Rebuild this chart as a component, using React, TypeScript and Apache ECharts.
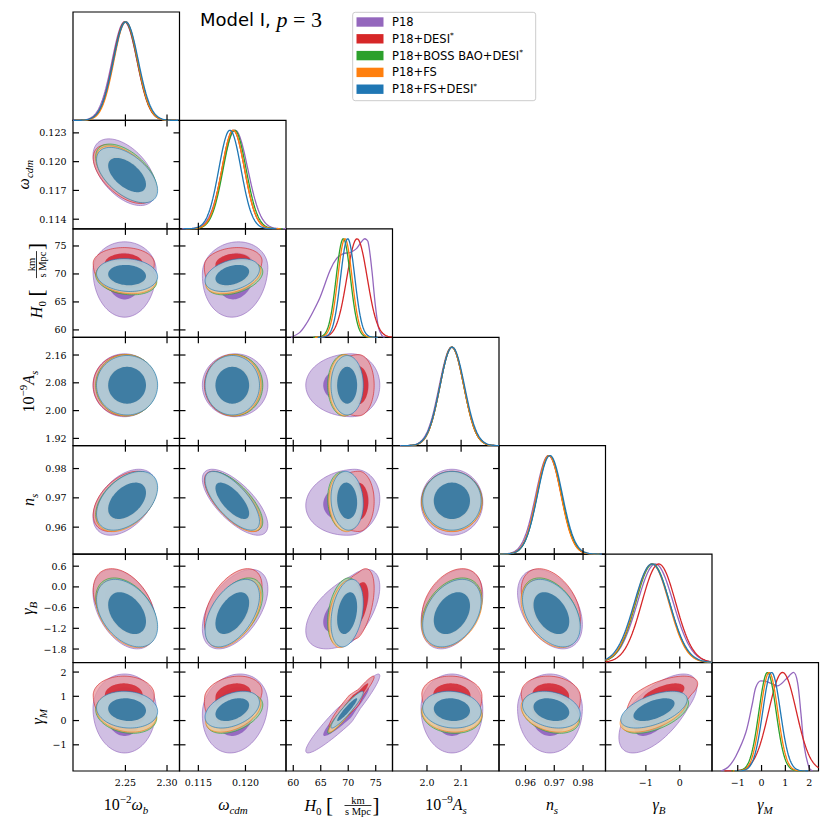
import React, { useEffect, useRef } from 'react';
import * as echarts from 'echarts';

// ---------------- axes ----------------
// parameter order: 10^-2 w_b, w_cdm, H0, 10^-9 A_s, n_s, gamma_B, gamma_M
const AXIS_MIN = [2.187, 0.113, 58.68, 1.899, 0.9508, -2.19, -2.08];
const AXIS_MAX = [2.315, 0.1243, 78.05, 2.211, 0.9878, 0.95, 2.39];
const X_TICKS = [[2.25, 2.3], [0.115, 0.12], [60, 65, 70, 75], [2.0, 2.1], [0.96, 0.97, 0.98], [-1, 0], [-1, 0, 1, 2]];
const X_TICK_LABELS = [['2.25', '2.30'], ['0.115', '0.120'], ['60', '65', '70', '75'], ['2.0', '2.1'], ['0.96', '0.97', '0.98'], ['−1', '0'], ['−1', '0', '1', '2']];
const Y_TICKS = [[], [0.114, 0.117, 0.12, 0.123], [60, 65, 70, 75], [1.92, 2.0, 2.08, 2.16], [0.96, 0.97, 0.98], [-1.8, -1.2, -0.6, 0, 0.6], [-1, 0, 1, 2]];
const Y_TICK_LABELS = [[], ['0.114', '0.117', '0.120', '0.123'], ['60', '65', '70', '75'], ['1.92', '2.00', '2.08', '2.16'], ['0.96', '0.97', '0.98'], ['−1.8', '−1.2', '−0.6', '0.0', '0.6'], ['−1', '0', '1', '2']];

// ---------------- datasets ----------------
const NAMES = ['P18', 'P18+DESI', 'P18+BOSS BAO+DESI', 'P18+FS', 'P18+FS+DESI'];
const NAME_STAR = [false, true, true, false, true];
const COLORS = ['#9467bd', '#d62728', '#2ca02c', '#ff7f0e', '#1f77b4'];

// 2D contour centres (modes)
const MODE_P18 = [2.249, 0.1189, 70.6, 2.073, 0.9685, -0.62, 0.5];
const MODE_DESI = [2.248, 0.1187, 71.9, 2.073, 0.9688, -0.5, 1.05];
const MODE_BOSS = [2.251, 0.11885, 69.2, 2.073, 0.9688, -0.72, 0.28];
const MODE_FS = [2.251, 0.1187, 69.4, 2.073, 0.9685, -0.78, 0.33];
const MODE_FSDESI = [2.252, 0.1186, 69.8, 2.073, 0.969, -0.76, 0.45];
// 2D widths below / above the mode
const SDLO_P18 = [0.0155, 0.00142, 3.4, 0.037, 0.0046, 0.48, 0.75];
const SDHI_P18 = [0.0155, 0.00142, 2.1, 0.037, 0.0046, 0.46, 0.58];
const SDLO_DESI = [0.015, 0.00125, 2.2, 0.036, 0.0042, 0.44, 0.55];
const SDHI_DESI = [0.015, 0.00125, 1.15, 0.036, 0.0042, 0.42, 0.32];
const SD_BOSS = [0.015, 0.00122, 1.2, 0.036, 0.0041, 0.4, 0.33];
const SD_FS = [0.0148, 0.0012, 1.2, 0.036, 0.0041, 0.4, 0.33];
const SD_FSDESI = [0.015, 0.00118, 1.2, 0.035, 0.0041, 0.4, 0.31];
// correlations, pair order (row,col): (1,0)(2,0)(2,1)(3,0)(3,1)(3,2)(4,0)(4,1)(4,2)(4,3)(5,0)(5,1)(5,2)(5,3)(5,4)(6,0)(6,1)(6,2)(6,3)(6,4)(6,5)
const CORR_P18 = [-0.5, 0.0, 0.1, 0.0, 0.0, 0.0, 0.45, -0.7, 0.1, 0.0, -0.4, 0.5, 0.55, 0.35, -0.4, 0.0, 0.15, 0.95, 0.0, 0.0, 0.65];
const CORR_DESI = [-0.55, 0.0, 0.15, 0.0, 0.0, 0.0, 0.45, -0.7, 0.0, 0.0, -0.4, 0.5, 0.45, 0.35, -0.4, 0.0, 0.2, 0.95, -0.05, -0.1, 0.6];
const CORR_BOSS = [-0.55, -0.2, 0.4, 0.0, 0.0, 0.0, 0.45, -0.7, -0.1, 0.0, -0.4, 0.5, 0.3, 0.35, -0.4, -0.2, 0.45, 0.94, -0.1, -0.3, 0.55];
const CORR_FS = [-0.55, -0.2, 0.4, 0.0, 0.0, 0.0, 0.45, -0.7, -0.1, 0.0, -0.4, 0.5, 0.3, 0.35, -0.4, -0.2, 0.45, 0.94, -0.1, -0.3, 0.55];
const CORR_FSDESI = [-0.55, -0.1, 0.35, 0.0, 0.0, 0.0, 0.45, -0.7, -0.1, 0.0, -0.4, 0.5, 0.3, 0.35, -0.4, -0.1, 0.4, 0.94, -0.1, -0.25, 0.55];

// 1D marginals (peak, width)
const DIAG_MEAN_P18 = [2.249, 0.1189, 70.6, 2.072, 0.968, -0.72, 0.5];
const DIAG_SD_P18 = [0.015, 0.00135, 3.0, 0.036, 0.0044, 0.53, 0.7];
const DIAG_MEAN_DESI = [2.2495, 0.1187, 71.6, 2.073, 0.9682, -0.62, 0.88];
const DIAG_SD_DESI = [0.0145, 0.0012, 1.85, 0.035, 0.0042, 0.5, 0.58];
const DIAG_MEAN_BOSS = [2.25, 0.11885, 69.1, 2.073, 0.9683, -0.8, 0.25];
const DIAG_SD_BOSS = [0.0145, 0.00122, 1.3, 0.035, 0.0042, 0.5, 0.36];
const DIAG_MEAN_FS = [2.2505, 0.1187, 69.4, 2.073, 0.9681, -0.82, 0.32];
const DIAG_SD_FS = [0.0143, 0.0012, 1.3, 0.035, 0.0042, 0.5, 0.36];
const DIAG_MEAN_FSDESI = [2.2505, 0.11835, 69.9, 2.074, 0.9685, -0.82, 0.42];
const DIAG_SD_FSDESI = [0.015, 0.00118, 1.3, 0.036, 0.0043, 0.52, 0.37];
// non-Gaussian P18 marginals, read point by point
const DIAG_P18_H0_X = [59.6, 61.2, 62.4, 63.6, 64.9, 66.7, 67.9, 69.1, 70.3, 71.5, 72.4, 73.0, 73.6, 74.3, 74.9, 75.5, 76.1, 76.6];
const DIAG_P18_H0_Y = [0.0, 0.05, 0.14, 0.26, 0.41, 0.68, 0.8, 0.85, 0.86, 0.9, 0.97, 1.0, 0.97, 0.68, 0.34, 0.1, 0.02, 0.0];
const DIAG_P18_GM_X = [-1.7, -1.4, -1.08, -0.66, -0.38, -0.24, -0.03, 0.25, 0.67, 1.02, 1.34, 1.51, 1.65, 1.79, 2.0, 2.14];
const DIAG_P18_GM_Y = [0.0, 0.04, 0.15, 0.39, 0.69, 0.85, 0.915, 0.905, 0.864, 0.93, 1.0, 0.9, 0.59, 0.25, 0.03, 0.0];

const MODES = [MODE_P18, MODE_DESI, MODE_BOSS, MODE_FS, MODE_FSDESI];
const SDLO = [SDLO_P18, SDLO_DESI, SD_BOSS, SD_FS, SD_FSDESI];
const SDHI = [SDHI_P18, SDHI_DESI, SD_BOSS, SD_FS, SD_FSDESI];
const CORRS = [CORR_P18, CORR_DESI, CORR_BOSS, CORR_FS, CORR_FSDESI];
const DIAG_MEANS = [DIAG_MEAN_P18, DIAG_MEAN_DESI, DIAG_MEAN_BOSS, DIAG_MEAN_FS, DIAG_MEAN_FSDESI];
const DIAG_SDS = [DIAG_SD_P18, DIAG_SD_DESI, DIAG_SD_BOSS, DIAG_SD_FS, DIAG_SD_FSDESI];
const EXPLICIT: Record<string, [number[], number[]]> = {
  '0-2': [DIAG_P18_H0_X, DIAG_P18_H0_Y],
  '0-6': [DIAG_P18_GM_X, DIAG_P18_GM_Y],
};

// ---------------- layout & style ----------------
const COL_LEFT = [73, 179.5, 286, 392.5, 499, 605.5, 712];
const PANEL_W = 106.5;
const ROW_TOP = [12, 120.4, 228.9, 337.3, 445.7, 554.1, 662.6];
const PANEL_H = 108.4;
const K68 = 1.515;
const K95 = 2.448;
const TICK_LEN = 6;
const TICK_FONT = 'DejaVu Serif';
const MATH_FONT = 'Liberation Serif';
const INNER_FILL = ['rgba(140,90,188,0.85)', 'rgba(210,38,48,0.85)', 'rgba(44,160,44,0.75)', 'rgba(255,127,14,0.75)', 'rgba(58,122,161,0.96)'];
const OUTER_FILL = ['rgba(203,184,224,0.9)', 'rgba(234,150,154,0.72)', 'rgba(160,208,160,0.7)', 'rgba(255,200,150,0.7)', 'rgba(172,200,216,0.93)'];

function hexRgb(h: string) {
  return [parseInt(h.slice(1, 3), 16), parseInt(h.slice(3, 5), 16), parseInt(h.slice(5, 7), 16)];
}
function rgba(h: string, a: number) {
  const c = hexRgb(h);
  return `rgba(${c[0]},${c[1]},${c[2]},${a})`;
}
function fmt(ticks: number[], labels: string[]) {
  return (v: number) => {
    let b = 0;
    for (let i = 0; i < ticks.length; i++) if (Math.abs(ticks[i] - v) < Math.abs(ticks[b] - v)) b = i;
    return labels[b] ?? '';
  };
}
function pairIndex(r: number, c: number) {
  return (r * (r - 1)) / 2 + c;
}
function contour(d: number, i: number, j: number, k: number) {
  const rho = CORRS[d][pairIndex(j, i)];
  const s = Math.sqrt(1 - rho * rho);
  const pts: number[][] = [];
  const n = 90;
  for (let q = 0; q <= n; q++) {
    const t = (2 * Math.PI * q) / n;
    const z1 = Math.cos(t);
    const z2 = rho * Math.cos(t) + s * Math.sin(t);
    const x = MODES[d][i] + k * z1 * (z1 < 0 ? SDLO[d][i] : SDHI[d][i]);
    const y = MODES[d][j] + k * z2 * (z2 < 0 ? SDLO[d][j] : SDHI[d][j]);
    pts.push([x, y]);
  }
  return pts;
}
function diagCurve(d: number, p: number) {
  const ex = EXPLICIT[`${d}-${p}`];
  if (ex) return ex[0].map((x, i) => [x, ex[1][i]]);
  const m = DIAG_MEANS[d][p];
  const s = DIAG_SDS[d][p];
  const out: number[][] = [];
  const lo = Math.max(AXIS_MIN[p], m - 4.2 * s);
  const hi = Math.min(AXIS_MAX[p], m + 4.2 * s);
  const n = 120;
  for (let q = 0; q <= n; q++) {
    const x = lo + ((hi - lo) * q) / n;
    const z = (x - m) / s;
    out.push([x, Math.exp(-0.5 * z * z)]);
  }
  return out;
}

function axisCfg(g: number, p: number, position: string, ticks: number[], labels: string[], showLabel: boolean) {
  return {
    type: 'value',
    gridIndex: g,
    position,
    min: AXIS_MIN[p],
    max: AXIS_MAX[p],
    axisLine: { show: false, onZero: false },
    splitLine: { show: false },
    axisTick: { show: false },
    axisLabel: {
      show: showLabel,
      margin: 6.5,
      customValues: ticks,
      formatter: fmt(ticks, labels),
      color: '#000',
      fontFamily: TICK_FONT,
      fontSize: 9.5,
    },
  };
}

// tick lines for one panel, placed through api.coord (the axes' own scales)
function tickElements(api: any, xt: number[], yt: number[], ext: number[], allSides: boolean) {
  const [x0, x1, y0, y1] = ext;
  const out: any[] = [];
  const st = { stroke: '#000000', lineWidth: 1.2 };
  xt.forEach((v) => {
    const a = api.coord([v, y0]);
    out.push({ type: 'line', shape: { x1: a[0], y1: a[1], x2: a[0], y2: a[1] - TICK_LEN }, style: st });
    if (allSides) {
      const b = api.coord([v, y1]);
      out.push({ type: 'line', shape: { x1: b[0], y1: b[1], x2: b[0], y2: b[1] + TICK_LEN }, style: st });
    }
  });
  if (allSides) {
    yt.forEach((v) => {
      const a = api.coord([x0, v]);
      out.push({ type: 'line', shape: { x1: a[0], y1: a[1], x2: a[0] + TICK_LEN, y2: a[1] }, style: st });
      const b = api.coord([x1, v]);
      out.push({ type: 'line', shape: { x1: b[0], y1: b[1], x2: b[0] - TICK_LEN, y2: b[1] }, style: st });
    });
  }
  return out;
}

function mathLabel(parts: [string, string][], x: number, y: number, rotation = 0) {
  const text = parts.map(([k, s]) => `{${k}|${s}}`).join('');
  return {
    type: 'text',
    x,
    y,
    rotation,
    silent: true,
    style: {
      text,
      align: 'center',
      verticalAlign: 'middle',
      rich: {
        m: { fontFamily: MATH_FONT, fontStyle: 'italic', fontSize: 16, lineHeight: 22, verticalAlign: 'middle', fill: '#000' },
        r: { fontFamily: MATH_FONT, fontSize: 16, lineHeight: 22, verticalAlign: 'middle', fill: '#000' },
        sub: { fontFamily: MATH_FONT, fontStyle: 'italic', fontSize: 11, lineHeight: 11, verticalAlign: 'bottom', fill: '#000' },
        sup: { fontFamily: MATH_FONT, fontSize: 11, lineHeight: 11, verticalAlign: 'top', fill: '#000' },
      },
    },
  };
}

function h0Label(x: number, y: number, rotation: number) {
  const base = { fontFamily: MATH_FONT, fill: '#000' };
  return {
    type: 'group',
    x,
    y,
    rotation,
    silent: true,
    children: [
      {
        type: 'text',
        x: -18,
        y: 0,
        style: {
          text: '{m|H}{sub|0}',
          align: 'right',
          verticalAlign: 'middle',
          rich: {
            m: { ...base, fontStyle: 'italic', fontSize: 16, lineHeight: 22, verticalAlign: 'middle' },
            sub: { ...base, fontSize: 11, lineHeight: 11, verticalAlign: 'bottom' },
          },
        },
      },
      { type: 'text', x: -10, y: 0, style: { ...base, text: '[', fontSize: 21, align: 'center', verticalAlign: 'middle' } },
      { type: 'text', x: 18.5, y: -5, style: { ...base, text: 'km', fontSize: 10.5, align: 'center', verticalAlign: 'middle' } },
      { type: 'line', shape: { x1: 5, y1: 0.5, x2: 32, y2: 0.5 }, style: { stroke: '#000', lineWidth: 0.8 } },
      { type: 'text', x: 18.5, y: 6, style: { ...base, text: 's Mpc', fontSize: 10.5, align: 'center', verticalAlign: 'middle' } },
      { type: 'text', x: 36.5, y: 0, style: { ...base, text: ']', fontSize: 21, align: 'center', verticalAlign: 'middle' } },
    ],
  };
}

function buildOption() {
  const grid: any[] = [];
  const xAxis: any[] = [];
  const yAxis: any[] = [];
  const series: any[] = [];
  let g = 0;
  for (let r = 0; r < 7; r++) {
    for (let c = 0; c <= r; c++) {
      const diag = r === c;
      grid.push({
        left: COL_LEFT[c],
        top: ROW_TOP[r],
        width: PANEL_W,
        height: PANEL_H,
        show: true,
        borderColor: '#000',
        borderWidth: 1.2,
      });
      xAxis.push(axisCfg(g, c, 'bottom', X_TICKS[c], X_TICK_LABELS[c], r === 6));
      if (diag) {
        xAxis.push({ type: 'value', gridIndex: g, position: 'top', min: AXIS_MIN[c], max: AXIS_MAX[c], show: false });
        yAxis.push({ type: 'value', gridIndex: g, position: 'left', min: 0, max: 1.1, show: false });
        yAxis.push({ type: 'value', gridIndex: g, position: 'right', min: 0, max: 1.1, show: false });
      } else {
        xAxis.push(axisCfg(g, c, 'top', X_TICKS[c], X_TICK_LABELS[c], false));
        yAxis.push(axisCfg(g, r, 'left', Y_TICKS[r], Y_TICK_LABELS[r], c === 0));
        yAxis.push(axisCfg(g, r, 'right', Y_TICKS[r], Y_TICK_LABELS[r], false));
      }
      const xi = 2 * g;
      const yi = 2 * g;
      const x0 = AXIS_MIN[c];
      const x1 = AXIS_MAX[c];
      const y0 = diag ? 0 : AXIS_MIN[r];
      const y1 = diag ? 1.1 : AXIS_MAX[r];
      const ext = [x0, x1, y0, y1];
      const xt = X_TICKS[c];
      const yt = Y_TICKS[r];
      if (diag) {
        for (let d = 0; d < 5; d++) {
          const explicit = !!EXPLICIT[`${d}-${c}`];
          series.push({
            type: 'line',
            xAxisIndex: xi,
            yAxisIndex: yi,
            data: diagCurve(d, c),
            showSymbol: false,
            symbol: 'none',
            smooth: explicit ? 0.3 : false,
            silent: true,
            lineStyle: { color: COLORS[d], width: 1.3 },
            z: 3,
          });
        }
        // ticks of the diagonal panel (bottom side only)
        series.push({
          type: 'custom',
          xAxisIndex: xi,
          yAxisIndex: yi,
          silent: true,
          z: 4,
          data: [[DIAG_MEANS[4][c], 0.5]],
          renderItem: (_params: any, api: any) => ({
            type: 'group',
            children: tickElements(api, xt, yt, ext, false),
          }),
        });
      } else {
        const px = c;
        const py = r;
        const items: number[][] = [];
        for (let d = 0; d < 5; d++) {
          items.push([MODES[d][px], MODES[d][py], d, 1]);
          items.push([MODES[d][px], MODES[d][py], d, 0]);
        }
        const lastIndex = items.length - 1;
        const polys: Record<string, number[][]> = {};
        for (let d = 0; d < 5; d++) {
          polys[`${d}-1`] = contour(d, px, py, K95);
          polys[`${d}-0`] = contour(d, px, py, K68);
        }
        series.push({
          type: 'custom',
          xAxisIndex: xi,
          yAxisIndex: yi,
          silent: true,
          data: items,
          z: 2,
          renderItem: (params: any, api: any) => {
            const d = api.value(2);
            const lev = api.value(3);
            const pts = polys[`${d}-${lev}`].map((p) => api.coord(p));
            const lb = api.coord([x0, y0]);
            const rt = api.coord([x1, y1]);
            const outer = lev === 1;
            const poly = {
              type: 'group',
              clipPath: { type: 'rect', shape: { x: lb[0], y: rt[1], width: rt[0] - lb[0], height: lb[1] - rt[1] } },
              children: [
                {
                  type: 'polygon',
                  shape: { points: pts },
                  style: outer
                    ? { fill: OUTER_FILL[d], stroke: rgba(COLORS[d], 0.7), lineWidth: 0.9 }
                    : { fill: INNER_FILL[d], stroke: 'rgba(0,0,0,0)', lineWidth: 0 },
                },
              ],
            };
            const children: any[] = [poly];
            if (params.dataIndex === lastIndex) children.push(...tickElements(api, xt, yt, ext, true));
            return { type: 'group', children };
          },
        });
      }
      g++;
    }
  }

  const graphic: any[] = [];
  // title
  graphic.push({
    type: 'text',
    x: 200,
    y: 19,
    silent: true,
    style: {
      text: '{s|Model I, }{m|p}{r| = 3}',
      align: 'left',
      verticalAlign: 'middle',
      rich: {
        s: { fontFamily: 'DejaVu Sans', fontSize: 18, fill: '#000', lineHeight: 24, verticalAlign: 'middle' },
        m: { fontFamily: MATH_FONT, fontStyle: 'italic', fontSize: 22, fill: '#000', lineHeight: 24, verticalAlign: 'middle' },
        r: { fontFamily: MATH_FONT, fontSize: 22, fill: '#000', lineHeight: 24, verticalAlign: 'middle' },
      },
    },
  });
  // legend
  graphic.push({
    type: 'rect',
    shape: { x: 352.7, y: 12.3, width: 183, height: 88.4, r: 2.5 },
    style: { fill: 'rgba(255,255,255,0.85)', stroke: '#cccccc', lineWidth: 1 },
    silent: true,
    z: 10,
  });
  const legendY = [22, 38.8, 55.6, 72.4, 89.2];
  for (let d = 0; d < 5; d++) {
    graphic.push({
      type: 'rect',
      shape: { x: 356.5, y: legendY[d] - 4.7, width: 27, height: 9.4 },
      style: { fill: COLORS[d] },
      silent: true,
      z: 11,
    });
    graphic.push({
      type: 'text',
      x: 392,
      y: legendY[d],
      silent: true,
      z: 11,
      style: {
        text: `{t|${NAMES[d]}}` + (NAME_STAR[d] ? '{u|*}' : ''),
        align: 'left',
        verticalAlign: 'middle',
        rich: {
          t: { fontFamily: 'DejaVu Sans', fontSize: 11.5, fill: '#000', lineHeight: 14, verticalAlign: 'middle' },
          u: { fontFamily: 'DejaVu Sans', fontSize: 7.5, fill: '#000', lineHeight: 9, verticalAlign: 'top' },
        },
      },
    });
  }
  // axis titles: bottom
  const bottomY = 804;
  graphic.push(mathLabel([['r', '10'], ['sup', '−2'], ['m', 'ω'], ['sub', 'b']], 126, bottomY));
  graphic.push(mathLabel([['m', 'ω'], ['sub', 'cdm']], 233, bottomY));
  graphic.push(h0Label(339.5, bottomY + 1, 0));
  graphic.push(mathLabel([['r', '10'], ['sup', '−9'], ['m', 'A'], ['sub', 's']], 446, bottomY));
  graphic.push(mathLabel([['m', 'n'], ['sub', 's']], 552, bottomY));
  graphic.push(mathLabel([['m', 'γ'], ['sub', 'B']], 659, bottomY));
  graphic.push(mathLabel([['m', 'γ'], ['sub', 'M']], 765, bottomY));
  // axis titles: left (rotated)
  const rc = (r: number) => ROW_TOP[r] + PANEL_H / 2;
  const rot = Math.PI / 2;
  graphic.push(mathLabel([['m', 'ω'], ['sub', 'cdm']], 23, rc(1), rot));
  graphic.push(h0Label(36, rc(2), rot));
  graphic.push(mathLabel([['r', '10'], ['sup', '−9'], ['m', 'A'], ['sub', 's']], 28, rc(3), rot));
  graphic.push(mathLabel([['m', 'n'], ['sub', 's']], 28, rc(4), rot));
  graphic.push(mathLabel([['m', 'γ'], ['sub', 'B']], 27, rc(5), rot));
  graphic.push(mathLabel([['m', 'γ'], ['sub', 'M']], 37, rc(6), rot));

  return {
    animation: false,
    backgroundColor: '#ffffff',
    grid,
    xAxis,
    yAxis,
    series,
    graphic,
  };
}

export default function App() {
  const ref = useRef<HTMLDivElement>(null);
  useEffect(() => {
    const chart = echarts.init(ref.current as HTMLDivElement, null, { renderer: 'svg' });
    chart.setOption(buildOption() as any);
    return () => chart.dispose();
  }, []);
  return (
    <div
      ref={ref}
      style={{ position: 'absolute', left: 0, top: 0, width: 830, height: 830, background: '#fff' }}
    />
  );
}
